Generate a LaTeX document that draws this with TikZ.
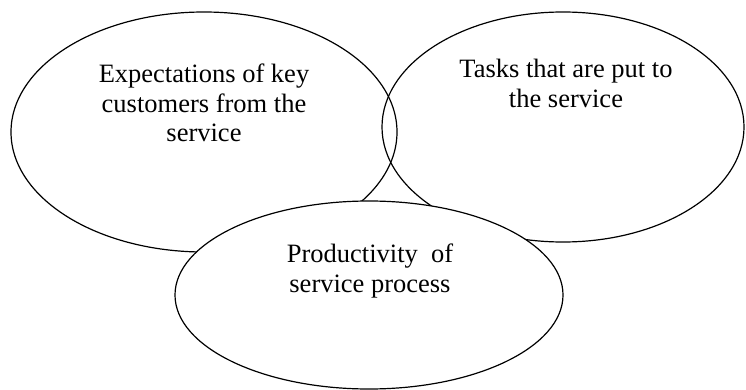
\documentclass[tikz,border=0pt]{standalone}
\usepackage{fontspec}
\setmainfont{Liberation Serif}
\begin{document}
\begin{tikzpicture}[x=1pt,y=-1pt,
  oval/.style={draw=black,line width=1.2pt},
  label/.style={align=center,inner sep=0pt,anchor=north,
    font=\fontsize{26.5}{29.5}\selectfont}]
\useasboundingbox (0,0) rectangle (746,390);
% two upper ovals, outlines only
\draw[oval] (204,132) ellipse [x radius=193, y radius=120];
\draw[oval] (563,127) ellipse [x radius=181, y radius=115];
% lower oval laid over the other two
\draw[oval,fill=white] (369,295) ellipse [x radius=194, y radius=94];
\node[label] (expect) at (204,64) {Expectations of key\\customers from the\\service};
\node[label] (tasks) at (566,59) {Tasks that are put to\\the service};
\node[label] (prod) at (370,244) {Productivity~~of\\service process};
\end{tikzpicture}
\end{document}
